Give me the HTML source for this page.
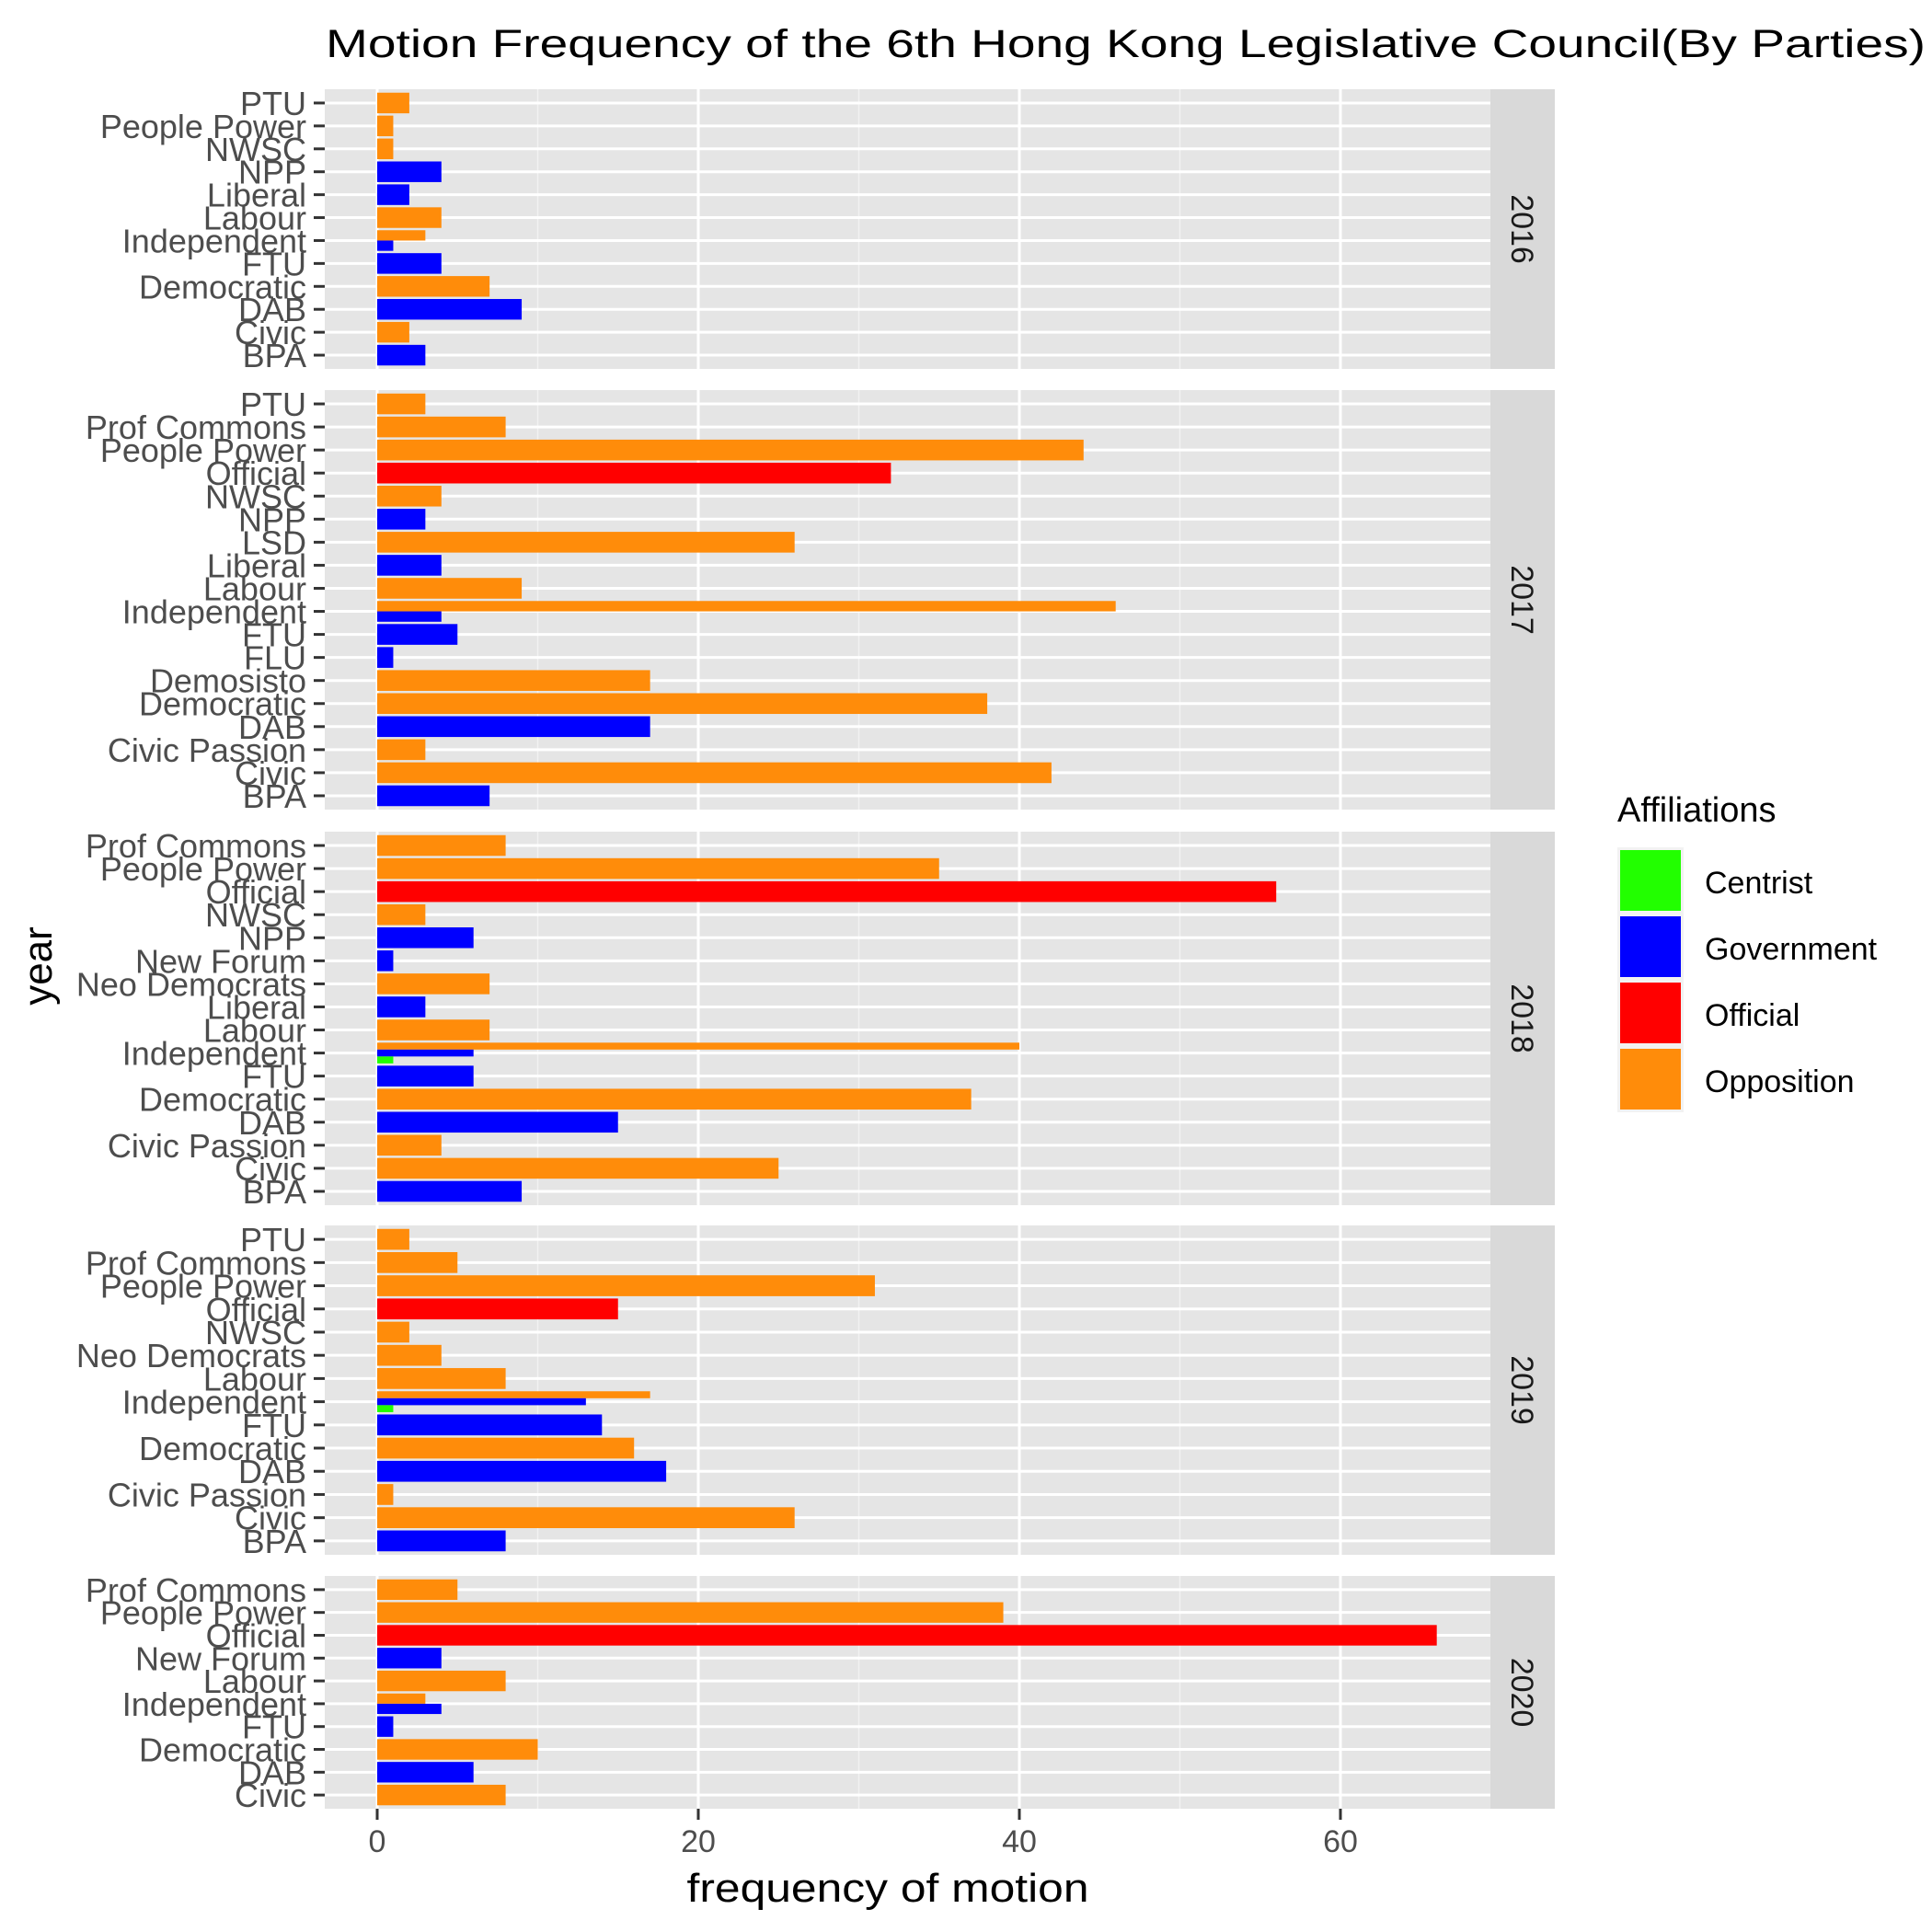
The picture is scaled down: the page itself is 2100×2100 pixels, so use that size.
<!DOCTYPE html>
<html><head><meta charset="utf-8"><style>
html,body{margin:0;padding:0;background:#fff;}
svg{display:block;font-family:"Liberation Sans",Arial,sans-serif;}
</style></head><body>
<svg id="chart" width="2100" height="2100" viewBox="0 0 2100 2100">
<text x="354" y="62" font-size="43" fill="#000" textLength="1739" lengthAdjust="spacingAndGlyphs">Motion Frequency of the 6th Hong Kong Legislative Council(By Parties)</text>
<g id="panels"></g>
<text x="965" y="2067" font-size="44" text-anchor="middle" fill="#000" textLength="437" lengthAdjust="spacingAndGlyphs">frequency of motion</text>
<text transform="translate(56,1050) rotate(-90)" font-size="44" text-anchor="middle" fill="#000">year</text>
<g>
<text x="1758" y="893" font-size="38" fill="#000">Affiliations</text>
<rect x="1758" y="921" width="72" height="288" fill="#f2f2f2"/>
<rect x="1761" y="924" width="66" height="66" fill="#22ff00"/>
<rect x="1761" y="996" width="66" height="66" fill="#0000ff"/>
<rect x="1761" y="1068" width="66" height="66" fill="#ff0000"/>
<rect x="1761" y="1140" width="66" height="66" fill="#ff8c0a"/>
<text x="1853" y="971" font-size="34" fill="#000">Centrist</text>
<text x="1853" y="1043" font-size="34" fill="#000">Government</text>
<text x="1853" y="1115" font-size="34" fill="#000">Official</text>
<text x="1853" y="1187" font-size="34" fill="#000">Opposition</text>
</g>
</svg>
<script>
// Data (top-to-bottom as displayed); null = absent
const years = ["2016","2017","2018","2019","2020"];
const cats2016 = ["PTU","People Power","NWSC","NPP","Liberal","Labour","Independent","FTU","Democratic","DAB","Civic","BPA"];
const opp2016  = [2,1,1,null,null,4,3,null,7,null,2,null];
const gov2016  = [null,null,null,4,2,null,1,4,null,9,null,3];
const off2016  = [null,null,null,null,null,null,null,null,null,null,null,null];
const cen2016  = [null,null,null,null,null,null,null,null,null,null,null,null];
const cats2017 = ["PTU","Prof Commons","People Power","Official","NWSC","NPP","LSD","Liberal","Labour","Independent","FTU","FLU","Demosisto","Democratic","DAB","Civic Passion","Civic","BPA"];
const opp2017  = [3,8,44,null,4,null,26,null,9,46,null,null,17,38,null,3,42,null];
const gov2017  = [null,null,null,null,null,3,null,4,null,4,5,1,null,null,17,null,null,7];
const off2017  = [null,null,null,32,null,null,null,null,null,null,null,null,null,null,null,null,null,null];
const cen2017  = [null,null,null,null,null,null,null,null,null,null,null,null,null,null,null,null,null,null];
const cats2018 = ["Prof Commons","People Power","Official","NWSC","NPP","New Forum","Neo Democrats","Liberal","Labour","Independent","FTU","Democratic","DAB","Civic Passion","Civic","BPA"];
const opp2018  = [8,35,null,3,null,null,7,null,7,40,null,37,null,4,25,null];
const gov2018  = [null,null,null,null,6,1,null,3,null,6,6,null,15,null,null,9];
const off2018  = [null,null,56,null,null,null,null,null,null,null,null,null,null,null,null,null];
const cen2018  = [null,null,null,null,null,null,null,null,null,1,null,null,null,null,null,null];
const cats2019 = ["PTU","Prof Commons","People Power","Official","NWSC","Neo Democrats","Labour","Independent","FTU","Democratic","DAB","Civic Passion","Civic","BPA"];
const opp2019  = [2,5,31,null,2,4,8,17,null,16,null,1,26,null];
const gov2019  = [null,null,null,null,null,null,null,13,14,null,18,null,null,8];
const off2019  = [null,null,null,15,null,null,null,null,null,null,null,null,null,null];
const cen2019  = [null,null,null,null,null,null,null,1,null,null,null,null,null,null];
const cats2020 = ["Prof Commons","People Power","Official","New Forum","Labour","Independent","FTU","Democratic","DAB","Civic"];
const opp2020  = [5,39,null,null,8,3,null,10,null,8];
const gov2020  = [null,null,null,4,null,4,1,null,6,null];
const off2020  = [null,null,66,null,null,null,null,null,null,null];
const cen2020  = [null,null,null,null,null,null,null,null,null,null];
const xTicks = [0,20,40,60];
const xMinor = [10,30,50];

const NS="http://www.w3.org/2000/svg";
const panelBounds=[[97,401],[424,880],[904,1310],[1332,1690],[1713,1966]];
const PL=353, PR=1620, SR=1690;
function xs(v){return 410+v*17.45;}
const sets=[[cats2016,opp2016,gov2016,off2016,cen2016],[cats2017,opp2017,gov2017,off2017,cen2017],[cats2018,opp2018,gov2018,off2018,cen2018],[cats2019,opp2019,gov2019,off2019,cen2019],[cats2020,opp2020,gov2020,off2020,cen2020]];
const colors={opp:"#ff8c0a",gov:"#0000ff",off:"#ff0000",cen:"#22ff00"};
const root=document.getElementById("panels");
function mk(tag,attrs,parent){const e=document.createElementNS(NS,tag);for(const k in attrs)e.setAttribute(k,attrs[k]);(parent||root).appendChild(e);return e;}

sets.forEach((s,pi)=>{
  const [cats,opp,gov,off,cen]=s;
  const [top,bot]=panelBounds[pi];
  const n=cats.length;
  const u=(bot-top)/(n+0.2);
  function ys(i){return top+(0.6+i)*u;}
  const g=mk("g",{});
  
  
  const bg=mk("rect",{x:PL,y:top,width:PR-PL,height:bot-top,fill:"#e5e5e5"},g);
  
  
  xMinor.forEach(v=>{const l=mk("line",{x1:xs(v),x2:xs(v),y1:top,y2:bot,stroke:"#f2f2f2","stroke-width":1.5},g);
    
    });
  xTicks.forEach(v=>{const l=mk("line",{x1:xs(v),x2:xs(v),y1:top,y2:bot,stroke:"#fff","stroke-width":3},g);
    
    });
  cats.forEach((c,i)=>{
    const y=ys(i);
    const l=mk("line",{x1:PL,x2:PR,y1:y,y2:y,stroke:"#fff","stroke-width":3},g);
    
    
    const t=mk("line",{x1:341,x2:353,y1:y,y2:y,stroke:"#333","stroke-width":3},g);
    
    
    const tx=mk("text",{x:333,y:y+13,"font-size":36,"text-anchor":"end",fill:"#4d4d4d"},g);
    tx.textContent=c;
    
    
    const present=[];
    if(opp[i]!=null)present.push(["opp",opp[i]]);
    if(off[i]!=null)present.push(["off",off[i]]);
    if(gov[i]!=null)present.push(["gov",gov[i]]);
    if(cen[i]!=null)present.push(["cen",cen[i]]);
    const bw=0.9*u, sub=bw/present.length;
    present.forEach((p,k)=>{
      const r=mk("rect",{x:xs(0),y:y-bw/2+k*sub,width:xs(p[1])-xs(0),height:sub,fill:colors[p[0]]},g);
      
      
    });
  });
  const st=mk("rect",{x:PR,y:top,width:SR-PR,height:bot-top,fill:"#d9d9d9"},g);
  
  
  const sy=(top+bot)/2, sx=(PR+SR)/2;
  const stx=mk("text",{transform:`translate(${sx-12},${sy}) rotate(90)`,"font-size":34,"text-anchor":"middle",fill:"#1a1a1a"},g);
  stx.textContent=years[pi];
  
  
});
xTicks.forEach(v=>{
  const t=mk("line",{x1:xs(v),x2:xs(v),y1:1966,y2:1978,stroke:"#333","stroke-width":3});
  
  
  const tx=mk("text",{x:xs(v),y:2013,"font-size":34,"text-anchor":"middle",fill:"#4d4d4d"});
  tx.textContent=String(v);
  
  
});
</script>
</body></html>
